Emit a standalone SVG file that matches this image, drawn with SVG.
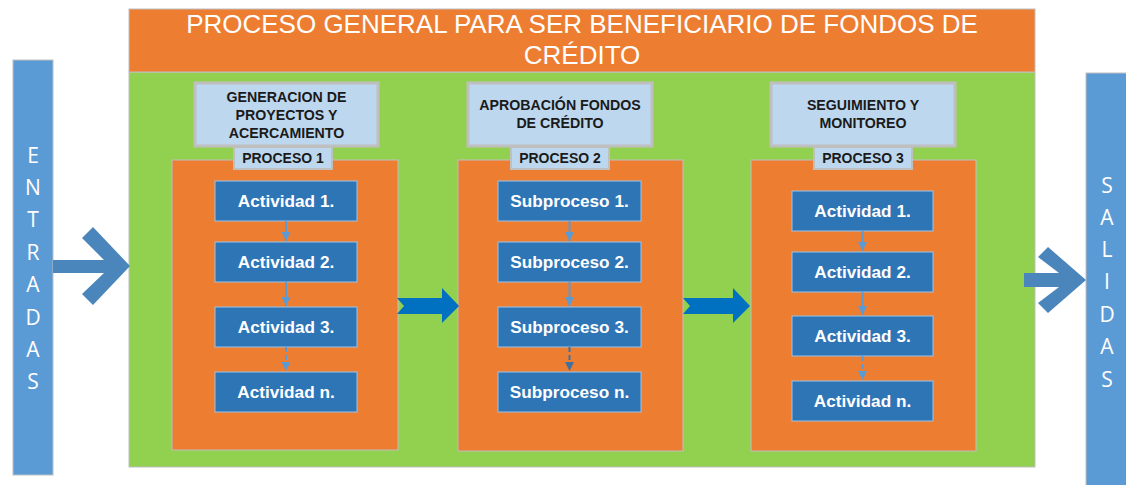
<svg xmlns="http://www.w3.org/2000/svg" width="1126" height="485" viewBox="0 0 1126 485">
<defs>
<marker id="ah" viewBox="0 0 10 10" refX="10" refY="5" markerWidth="4.5" markerHeight="4.5" orient="auto" markerUnits="strokeWidth">
<path d="M0,0 L10,5 L0,10 z" fill="#5B9BD5"/>
</marker>
<marker id="ahd" viewBox="0 0 10 10" refX="10" refY="5" markerWidth="4.5" markerHeight="4.5" orient="auto" markerUnits="strokeWidth">
<path d="M0,0 L10,5 L0,10 z" fill="#41719C"/>
</marker>
</defs>
<style>
.bar{fill:#5B9BD5;stroke:#BFBFBF;stroke-width:1}
.side{font-family:"Open Sans","Liberation Sans",sans-serif;font-size:21px;fill:#fff;text-anchor:middle}
.title{font-family:"Liberation Sans",Arial,sans-serif;font-size:26px;fill:#fff;text-anchor:middle}
.green{fill:#92D050;stroke:#BFBFBF;stroke-width:1}
.orange{fill:#ED7D31;stroke:#BFBFBF;stroke-width:1}
.hdr{fill:#BDD7EE;stroke:#BFBFBF;stroke-width:3}
.hdrt{font-family:"Liberation Sans",Arial,sans-serif;font-size:14.2px;font-weight:bold;fill:#1a1a1a;text-anchor:middle}
.lbl{fill:#BDD7EE;stroke:#BFBFBF;stroke-width:2}
.lblt{font-family:"Liberation Sans",Arial,sans-serif;font-size:14px;font-weight:bold;fill:#1a1a1a;text-anchor:middle}
.act{fill:#2E75B6;stroke:#9DC3E6;stroke-width:1}
.actt{font-family:"Liberation Sans",Arial,sans-serif;font-size:17.2px;font-weight:bold;fill:#fff;text-anchor:middle}
.con{stroke:#5B9BD5;stroke-width:2;fill:none;marker-end:url(#ah)}
.cond{stroke:#5B9BD5;stroke-width:2;fill:none;stroke-dasharray:5 3;marker-end:url(#ah)}
.cond2{stroke:#41719C;stroke-width:2;fill:none;stroke-dasharray:5 3;marker-end:url(#ahd)}
.bigarrow{fill:#0070C0}
.openarrow{fill:#4A86BC}
</style>

<g id="entradas">
<rect class="bar" x="13" y="60" width="40" height="415"/>
<text class="side" x="33" y="163">E</text>
<text class="side" x="33" y="195">N</text>
<text class="side" x="33" y="227">T</text>
<text class="side" x="33" y="260">R</text>
<text class="side" x="33" y="292">A</text>
<text class="side" x="33" y="325">D</text>
<text class="side" x="33" y="357">A</text>
<text class="side" x="33" y="389">S</text>
</g>

<g id="salidas">
<rect class="bar" x="1086" y="73" width="45" height="420"/>
<text class="side" x="1107" y="193">S</text>
<text class="side" x="1107" y="225">A</text>
<text class="side" x="1107" y="257">L</text>
<text class="side" x="1107" y="289">I</text>
<text class="side" x="1107" y="322">D</text>
<text class="side" x="1107" y="354">A</text>
<text class="side" x="1107" y="387">S</text>
</g>

<g id="marco">
<rect class="green" x="129" y="72" width="906" height="395"/>
</g>

<g id="titulo">
<rect class="orange" x="129" y="9" width="906" height="63"/>
<text class="title" x="582" y="33">PROCESO GENERAL PARA SER BENEFICIARIO DE FONDOS DE</text>
<text class="title" x="582" y="64">CRÉDITO</text>
</g>

<g id="proceso1">
<rect class="orange" x="172" y="160" width="226" height="290"/>
<rect class="hdr" x="195" y="83" width="183" height="63"/>
<text class="hdrt" x="286.5" y="102">GENERACION DE</text>
<text class="hdrt" x="286.5" y="120">PROYECTOS Y</text>
<text class="hdrt" x="286.5" y="138">ACERCAMIENTO</text>
<rect class="lbl" x="234" y="147" width="98" height="22"/>
<text class="lblt" x="283" y="163">PROCESO 1</text>
</g>
<g id="p1a1"><rect class="act" x="215" y="181" width="142" height="40"/><text class="actt" x="286" y="207">Actividad 1.</text></g>
<g id="p1a2"><rect class="act" x="215" y="242" width="142" height="40"/><text class="actt" x="286" y="268">Actividad 2.</text></g>
<g id="p1a3"><rect class="act" x="215" y="307" width="142" height="40"/><text class="actt" x="286" y="333">Actividad 3.</text></g>
<g id="p1an"><rect class="act" x="215" y="372" width="142" height="40"/><text class="actt" x="286" y="398">Actividad n.</text></g>

<g id="proceso2">
<rect class="orange" x="458" y="160" width="225" height="291"/>
<rect class="hdr" x="468" y="83" width="184" height="63"/>
<text class="hdrt" x="560" y="110">APROBACIÓN FONDOS</text>
<text class="hdrt" x="560" y="128">DE CRÉDITO</text>
<rect class="lbl" x="511" y="147" width="98" height="22"/>
<text class="lblt" x="560" y="163">PROCESO 2</text>
</g>
<g id="p2s1"><rect class="act" x="498" y="181" width="143" height="40"/><text class="actt" x="569.5" y="207">Subproceso 1.</text></g>
<g id="p2s2"><rect class="act" x="498" y="242" width="143" height="40"/><text class="actt" x="569.5" y="268">Subproceso 2.</text></g>
<g id="p2s3"><rect class="act" x="498" y="307" width="143" height="40"/><text class="actt" x="569.5" y="333">Subproceso 3.</text></g>
<g id="p2sn"><rect class="act" x="498" y="372" width="143" height="40"/><text class="actt" x="569.5" y="398">Subproceso n.</text></g>

<g id="proceso3">
<rect class="orange" x="751" y="160" width="225" height="291"/>
<rect class="hdr" x="771" y="83" width="184" height="63"/>
<text class="hdrt" x="863" y="110">SEGUIMIENTO Y</text>
<text class="hdrt" x="863" y="128">MONITOREO</text>
<rect class="lbl" x="814" y="147" width="98" height="22"/>
<text class="lblt" x="863" y="163">PROCESO 3</text>
</g>
<g id="p3a1"><rect class="act" x="792" y="191" width="141" height="40"/><text class="actt" x="862.5" y="217">Actividad 1.</text></g>
<g id="p3a2"><rect class="act" x="792" y="252" width="141" height="40"/><text class="actt" x="862.5" y="278">Actividad 2.</text></g>
<g id="p3a3"><rect class="act" x="792" y="316" width="141" height="40"/><text class="actt" x="862.5" y="342">Actividad 3.</text></g>
<g id="p3an"><rect class="act" x="792" y="381" width="141" height="40"/><text class="actt" x="862.5" y="407">Actividad n.</text></g>

<g id="connectors">
<line class="con" x1="286" y1="221" x2="286" y2="241"/>
<line class="con" x1="286" y1="282" x2="286" y2="306"/>
<line class="cond" x1="286" y1="347" x2="286" y2="371"/>
<line class="con" x1="569.5" y1="221" x2="569.5" y2="241"/>
<line class="con" x1="569.5" y1="282" x2="569.5" y2="306"/>
<line class="cond2" x1="569.5" y1="347" x2="569.5" y2="371"/>
<line class="con" x1="862.5" y1="231" x2="862.5" y2="251"/>
<line class="con" x1="862.5" y1="292" x2="862.5" y2="315"/>
<line class="cond" x1="862.5" y1="356" x2="862.5" y2="380"/>
<path class="bigarrow" d="M397,298 L442,298 L442,288 L459,306 L442,323 L442,314 L397,314 L404,306 Z"/>
<path class="bigarrow" d="M683,298 L733,298 L733,288 L750,306 L733,323 L733,314 L683,314 L690,306 Z"/>
<path class="openarrow" d="M53,260 L104,260 L82,238 L93,227 L130,266 L93,305 L82,294 L104,273 L53,273 Z"/>
<path class="openarrow" d="M1024,273 L1059,273 L1038,257 L1048,247 L1086,280 L1048,313 L1038,303 L1059,287 L1024,287 Z"/>
</g>
</svg>
